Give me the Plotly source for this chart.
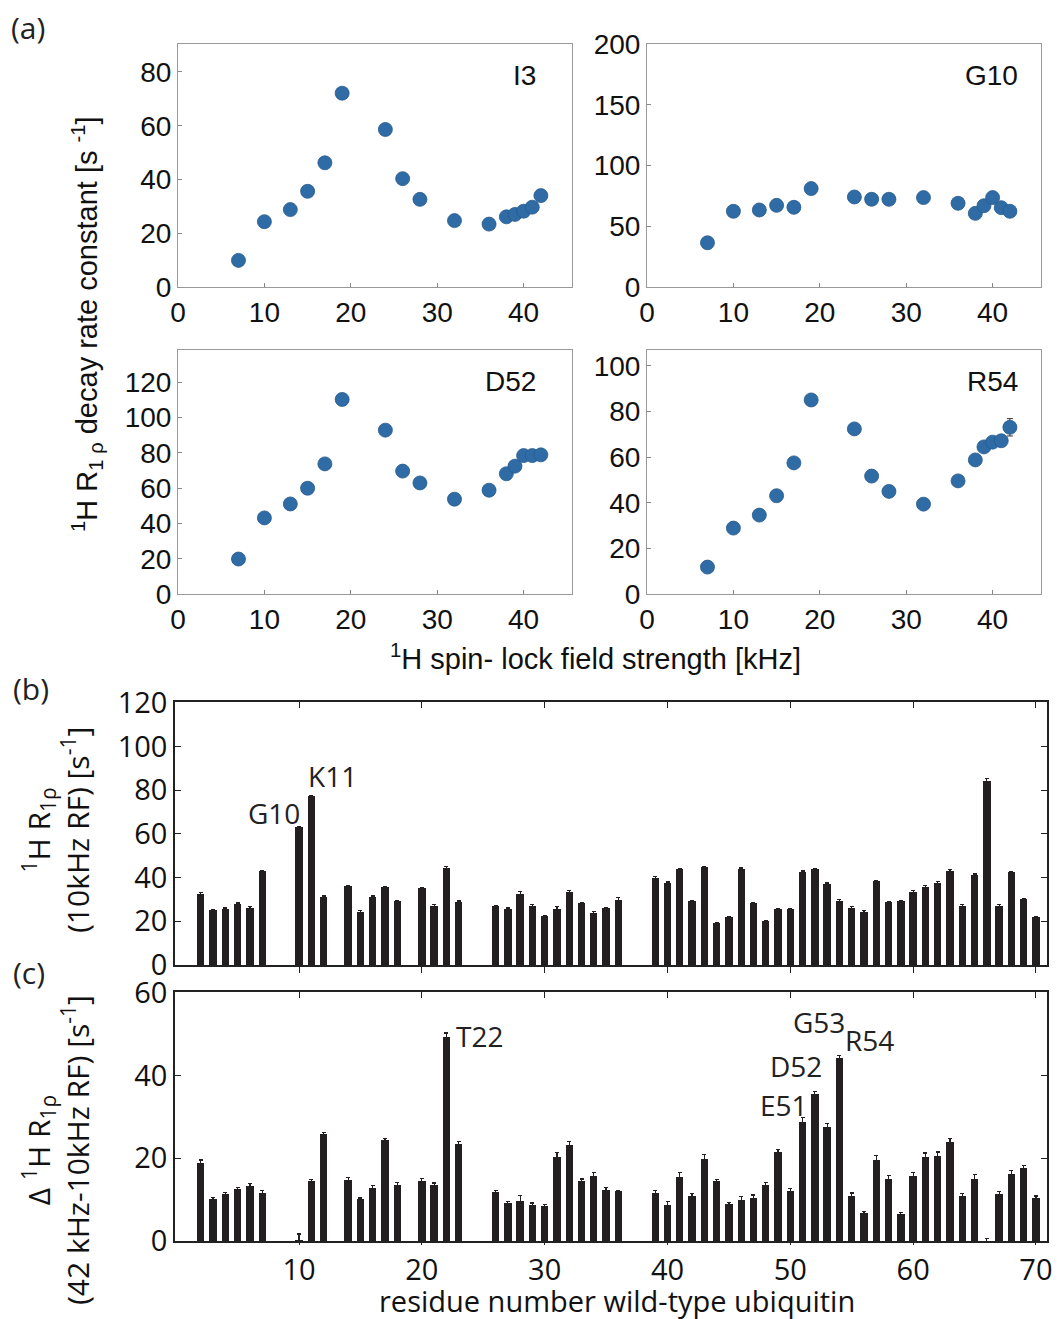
import plotly.graph_objects as go

W, H = 1063, 1319

# ---------------- data ----------------
field_khz = [7, 10, 13, 15, 17, 19, 24, 26, 28, 32, 36, 38, 39, 40, 41, 42]
r1rho_I3 = [9.9, 24.3, 28.8, 35.6, 46.2, 72.1, 58.6, 40.3, 32.6, 24.7, 23.4, 26.1, 27.0, 28.2, 29.7, 34.0]
r1rho_G10 = [36.4, 62.3, 63.4, 67.2, 65.6, 81.0, 74.1, 72.2, 72.2, 73.6, 68.9, 60.6, 66.9, 73.6, 65.3, 62.3]
r1rho_D52 = [19.8, 43.1, 51.0, 59.9, 73.7, 110.2, 92.8, 69.6, 62.9, 53.7, 58.8, 68.1, 72.4, 78.4, 78.4, 78.8]
r1rho_R54 = [11.8, 28.9, 34.6, 43.1, 57.5, 85.1, 72.4, 51.7, 45.0, 39.4, 49.6, 58.8, 64.5, 66.6, 67.2, 73.1]
err_D52 = [0, 0, 0, 0, 0, 0, 0, 0, 0, 0, 0, 0, 0, 0, 0, 2.0]
err_R54 = [0, 0, 0, 0, 0, 0, 0, 0, 0, 0, 0, 0, 0, 0, 0, 3.8]

residues = [2, 3, 4, 5, 6, 7, 10, 11, 12, 14, 15, 16, 17, 18, 20, 21, 22, 23,
            26, 27, 28, 29, 30, 31, 32, 33, 34, 35, 36,
            39, 40, 41, 42, 43, 44, 45, 46, 47, 48, 49, 50, 51, 52, 53, 54, 55,
            56, 57, 58, 59, 60, 61, 62, 63, 64, 65, 66, 67, 68, 69, 70]
r1rho_10khz = [32.6, 25.0, 25.7, 28.0, 26.2, 42.9, 62.9, 77.2, 31.2, 36.1, 24.4, 31.2, 35.6, 29.1,
               35.2, 27.1, 44.6, 28.9,
               26.9, 25.7, 32.6, 27.1, 22.4, 25.7, 33.5, 28.2, 23.9, 26.0, 29.8,
               40.0, 37.6, 43.8, 29.2, 44.7, 19.0, 21.8, 44.0, 28.2, 20.1, 25.6, 25.6, 42.6,
               43.7, 37.1, 29.4, 26.2, 24.4, 38.4, 28.6, 29.2, 33.6, 35.8, 37.7, 43.2, 27.1,
               41.2, 84.2, 27.2, 42.5, 30.1, 21.9]
err_10khz = [0.4, 0.4, 0.4, 0.4, 0.4, 0.4, 0.5, 0.5, 0.4, 0.4, 0.4, 0.4, 0.4, 0.4,
             0.4, 0.4, 0.5, 0.4,
             0.4, 0.4, 1.2, 0.4, 0.4, 0.9, 0.4, 0.4, 0.4, 0.4, 1.0,
             0.4, 0.4, 0.4, 0.4, 0.4, 0.4, 0.4, 0.4, 0.4, 0.4, 0.4, 0.4, 0.4,
             0.4, 0.4, 0.4, 0.4, 0.4, 0.4, 0.4, 0.4, 0.4, 0.4, 0.4, 0.4, 0.4,
             0.4, 1.0, 0.4, 0.4, 0.4, 0.4]
delta_r1rho = [18.8, 10.1, 11.4, 12.6, 13.4, 11.7, 0.2, 14.6, 25.8, 14.7, 10.1, 12.9, 24.4, 13.6,
               14.5, 13.5, 49.4, 23.5,
               11.8, 9.2, 9.7, 8.6, 8.5, 20.3, 23.3, 14.5, 15.8, 12.4, 12.0,
               11.7, 8.7, 15.5, 11.0, 19.9, 14.5, 9.0, 9.8, 10.5, 13.6, 21.5, 12.2, 28.7,
               35.6, 27.5, 44.3, 11.0, 6.8, 19.7, 15.1, 6.5, 15.7, 20.4, 20.5, 23.9, 10.9,
               15.1, -0.9, 11.4, 16.3, 17.6, 10.4]
err_delta = [0.8, 0.4, 0.4, 0.4, 0.5, 0.6, 1.5, 0.3, 0.5, 0.6, 0.3, 0.5, 0.4, 0.5,
             0.6, 0.5, 0.9, 0.5,
             0.5, 0.4, 1.3, 0.6, 0.4, 1.1, 0.8, 0.5, 0.8, 0.5, 0.3,
             0.6, 0.9, 1.0, 0.4, 1.0, 0.4, 0.4, 0.9, 0.6, 0.6, 0.6, 0.4, 1.1,
             0.6, 1.0, 0.5, 0.6, 0.3, 1.0, 0.7, 0.3, 0.8, 0.9, 1.0, 0.8, 0.5,
             0.9, 1.5, 0.6, 0.8, 0.6, 0.5]

panel_names = ["I3", "G10", "D52", "R54"]
labels_b = [("G10", 10.2, 69.5, "right"), ("K11", 10.6, 86.5, "left")]
labels_c = [("T22", 22.6, 49.5, "left"), ("G53", 52.3, 53.0, "center"),
            ("R54", 54.3, 48.7, "left"), ("D52", 50.5, 42.4, "center"),
            ("E51", 49.5, 32.8, "center")]

# ---------------- helpers ----------------
def px_x(p):
    return p / W

def px_y(p):
    return 1 - p / H

BLUE = "#2f6ca6"
BAR = "#231f20"
FA = "Liberation Sans, Arial, sans-serif"
FB = "Open Sans, Noto Sans, sans-serif"

fig = go.Figure()

a_series = [r1rho_I3, r1rho_G10, r1rho_D52, r1rho_R54]
a_err = [None, None, err_D52, err_R54]
for i, (ys, er) in enumerate(zip(a_series, a_err)):
    n = "" if i == 0 else str(i + 1)
    fig.add_trace(go.Scatter(
        x=field_khz, y=ys, mode="markers",
        marker=dict(color=BLUE, size=14, line=dict(color="#27598a", width=0.8)),
        error_y=(dict(type="data", array=er, visible=True, color="#333", thickness=1, width=3)
                 if er is not None else None),
        xaxis="x" + n, yaxis="y" + n, showlegend=False))

fig.add_trace(go.Bar(
    x=residues, y=r1rho_10khz, width=0.6, marker=dict(color=BAR, line=dict(width=0)),
    error_y=dict(type="data", array=err_10khz, visible=True, color=BAR, thickness=1.2, width=2),
    xaxis="x5", yaxis="y5", showlegend=False))
fig.add_trace(go.Bar(
    x=residues, y=delta_r1rho, width=0.6, marker=dict(color=BAR, line=dict(width=0)),
    error_y=dict(type="data", array=err_delta, visible=True, color=BAR, thickness=1.2, width=2),
    xaxis="x6", yaxis="y6", showlegend=False))
# empty traces so the top (frame) axes of (b) and (c) are drawn
fig.add_trace(go.Scatter(x=[None], y=[None], mode="markers", xaxis="x7", yaxis="y5",
                         showlegend=False, hoverinfo="skip"))
fig.add_trace(go.Scatter(x=[None], y=[None], mode="markers", xaxis="x8", yaxis="y6",
                         showlegend=False, hoverinfo="skip"))

# ---------------- axes (a) ----------------
a_dom_x = [[178, 572], [647, 1041], [178, 572], [647, 1041]]
a_dom_y = [[44, 287], [44, 287], [350, 594], [350, 594]]
a_yrange = [[0, 90.4], [0, 200], [0, 138.2], [0, 107]]
a_ytick = [[0, 20, 40, 60, 80], [0, 50, 100, 150, 200], [0, 20, 40, 60, 80, 100, 120],
           [0, 20, 40, 60, 80, 100]]
layout = {}
for i in range(4):
    n = "" if i == 0 else str(i + 1)
    layout["xaxis" + n] = dict(
        domain=[px_x(a_dom_x[i][0]), px_x(a_dom_x[i][1])], range=[0, 45.6],
        anchor="y" + n, tickvals=[0, 10, 20, 30, 40], ticks="inside", ticklen=4,
        tickcolor="#888", showline=True, linecolor="#999", linewidth=1, mirror=True,
        showgrid=False, zeroline=False, automargin=False,
        tickfont=dict(family=FA, size=28, color="#111"))
    layout["yaxis" + n] = dict(
        domain=[px_y(a_dom_y[i][1]), px_y(a_dom_y[i][0])], range=a_yrange[i],
        anchor="x" + n, tickvals=a_ytick[i], ticks="inside", ticklen=4,
        tickcolor="#888", showline=True, linecolor="#999", linewidth=1, mirror=True,
        showgrid=False, zeroline=False, automargin=False,
        tickfont=dict(family=FA, size=28, color="#111"))

line_bc = dict(showline=True, linecolor="#222", linewidth=1.5,
               showgrid=False, zeroline=False,
               tickcolor="#222", tickwidth=1.2, automargin=False)
xticks_bc = [10, 20, 30, 40, 50, 60, 70]
layout["xaxis5"] = dict(domain=[px_x(175), px_x(1047)], range=[-0.1, 70.9], anchor="y5",
                        tickvals=xticks_bc, showticklabels=False, ticks="outside", ticklen=6,
                        mirror=False, **line_bc)
layout["xaxis7"] = dict(domain=[px_x(175), px_x(1047)], range=[-0.1, 70.9], anchor="y5",
                        overlaying="x5", side="top", tickvals=xticks_bc, showticklabels=False,
                        ticks="inside", ticklen=6, mirror=False, **line_bc)
layout["yaxis5"] = dict(domain=[px_y(965), px_y(702)], range=[0, 120.3], anchor="x5",
                        tickvals=[0, 20, 40, 60, 80, 100, 120], ticks="inside", ticklen=6,
                        mirror="ticks",
                        tickfont=dict(family=FB, size=29, color="#111"), **line_bc)
layout["xaxis6"] = dict(domain=[px_x(175), px_x(1047)], range=[-0.1, 70.9], anchor="y6",
                        tickvals=xticks_bc, ticks="outside", ticklen=2, mirror=False,
                        tickfont=dict(family=FB, size=29, color="#111"), **line_bc)
layout["xaxis8"] = dict(domain=[px_x(175), px_x(1047)], range=[-0.1, 70.9], anchor="y6",
                        overlaying="x6", side="top", tickvals=xticks_bc, showticklabels=False,
                        ticks="inside", ticklen=6, mirror=False, **line_bc)
layout["yaxis6"] = dict(domain=[px_y(1241), px_y(992)], range=[0, 60.2], anchor="x6",
                        tickvals=[0, 20, 40, 60], ticks="inside", ticklen=6, mirror="ticks",
                        tickfont=dict(family=FB, size=29, color="#111"), **line_bc)

annotations = []
# panel names in (a)
name_pos = [(538, 75), (1020, 75), (538, 381), (1020, 381)]
for name, (xp, yp) in zip(panel_names, name_pos):
    annotations.append(dict(x=px_x(xp), y=px_y(yp), xref="paper", yref="paper", text=name,
                            showarrow=False, xanchor="right", yanchor="middle",
                            font=dict(family=FA, size=28, color="#111")))
# residue labels
for t, xv, yv, anc in labels_b:
    annotations.append(dict(x=xv, y=yv, xref="x5", yref="y5", text=t, showarrow=False,
                            xanchor=anc, yanchor="middle", font=dict(family=FB, size=28, color="#222")))
for t, xv, yv, anc in labels_c:
    annotations.append(dict(x=xv, y=yv, xref="x6", yref="y6", text=t, showarrow=False,
                            xanchor=anc, yanchor="middle", font=dict(family=FB, size=28, color="#222")))
# panel letters
for t, xp, yp in [("(a)", 28, 27), ("(b)", 31, 688), ("(c)", 29, 972)]:
    annotations.append(dict(x=px_x(xp), y=px_y(yp), xref="paper", yref="paper", text=t,
                            showarrow=False, xanchor="center", yanchor="middle",
                            font=dict(family=FB, size=30, color="#222")))
# axis titles
annotations.append(dict(x=px_x(87), y=px_y(324), xref="paper", yref="paper",
                        text="<sup>1</sup>H R<sub>1 ρ</sub> decay rate constant [s <sup>-1</sup>]",
                        textangle=-90, showarrow=False, xanchor="center", yanchor="middle",
                        font=dict(family=FA, size=29, color="#111")))
annotations.append(dict(x=px_x(595), y=px_y(657), xref="paper", yref="paper",
                        text="<sup>1</sup>H spin- lock field strength [kHz]",
                        showarrow=False, xanchor="center", yanchor="middle",
                        font=dict(family=FA, size=29, color="#111")))
annotations.append(dict(x=px_x(56), y=px_y(830), xref="paper", yref="paper",
                        text="<sup>1</sup>H R<sub>1ρ</sub><br>(10kHz RF) [s<sup>-1</sup>]",
                        textangle=-90, showarrow=False, xanchor="center", yanchor="middle",
                        font=dict(family=FB, size=30, color="#111")))
annotations.append(dict(x=px_x(56), y=px_y(1150), xref="paper", yref="paper",
                        text="Δ <sup>1</sup>H R<sub>1ρ</sub><br>(42 kHz-10kHz RF) [s<sup>-1</sup>]",
                        textangle=-90, showarrow=False, xanchor="center", yanchor="middle",
                        font=dict(family=FB, size=30, color="#111")))
annotations.append(dict(x=px_x(617), y=px_y(1300), xref="paper", yref="paper",
                        text="residue number wild-type ubiquitin",
                        showarrow=False, xanchor="center", yanchor="middle",
                        font=dict(family=FB, size=29, color="#111")))

fig.update_layout(width=W, height=H, margin=dict(l=0, r=0, t=0, b=0, pad=0, autoexpand=False),
                  paper_bgcolor="white", plot_bgcolor="white", bargap=0,
                  annotations=annotations, **layout)

fig.write_html("out.html")
